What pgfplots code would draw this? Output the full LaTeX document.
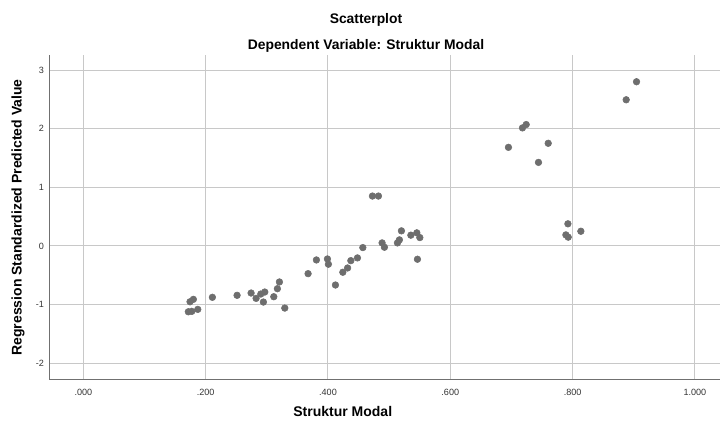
\documentclass[border=0pt]{standalone}
\usepackage{pgfplots}
\pgfplotsset{compat=1.18}
\usepackage{fontspec}
\setmainfont{Liberation Sans}
\definecolor{dotc}{HTML}{6E6E6E}
\definecolor{gridc}{HTML}{C8C8C8}
\definecolor{axc}{HTML}{707070}
\definecolor{tickc}{HTML}{333333}
\begin{document}
\begin{tikzpicture}
\begin{axis}[
  at={(0,0)}, anchor=south west,
  scale only axis, width=502.5pt, height=243.75pt,
  xmin=-0.0545, xmax=1.041, ymin=-2.29, ymax=3.26,
  axis lines*=left,
  axis line style={axc, line width=0.75pt},
  grid=major,
  major grid style={gridc, line width=0.75pt},
  major tick length=0pt,
  xtick={0,0.2,0.4,0.6,0.8,1.0},
  xticklabels={.000,.200,.400,.600,.800,1.000},
  ytick={-2,-1,0,1,2,3},
  yticklabels={-2,-1,0,1,2,3},
  tick label style={font=\fontsize{6.8}{8}\selectfont, text=tickc},
  xticklabel style={yshift=-3pt},
  yticklabel style={xshift=-1pt},
  xlabel={\textbf{Struktur Modal}},
  ylabel={\textbf{Regression Standardized Predicted Value}},
  xlabel style={font=\fontsize{10.5}{12}\selectfont, at={(rel axis cs:0.437,0)}, anchor=center, yshift=-23.5pt},
  ylabel style={font=\fontsize{10.5}{12}\selectfont, at={(rel axis cs:-0.0478,0.5)}, anchor=center},
  clip=false,
]
\addplot[only marks, mark=*, mark size=2.5pt, mark options={fill=dotc, draw=dotc}] coordinates {
(0.1717,-1.125) (0.1773,-1.118) (0.1871,-1.084) (0.1745,-0.954) (0.1799,-0.913)
(0.2110,-0.878) (0.2514,-0.844) (0.2743,-0.805) (0.2825,-0.896) (0.2902,-0.822)
(0.2967,-0.788) (0.2944,-0.959) (0.3114,-0.868) (0.3173,-0.731) (0.3206,-0.616)
(0.3294,-1.062) (0.3675,-0.474) (0.3811,-0.240) (0.3991,-0.223) (0.4007,-0.313)
(0.4122,-0.668) (0.4243,-0.450) (0.4321,-0.377) (0.4374,-0.252) (0.4482,-0.205)
(0.4570,-0.029) (0.4727,0.851) (0.4825,0.851) (0.4885,0.051) (0.4923,-0.023)
(0.5136,0.051) (0.5168,0.103) (0.5201,0.257) (0.5355,0.183) (0.5453,0.223)
(0.5502,0.142) (0.5463,-0.228) (0.6951,1.683) (0.7180,2.015) (0.7241,2.072)
(0.7442,1.426) (0.7601,1.752) (0.7923,0.377) (0.7890,0.188) (0.7928,0.149)
(0.8135,0.250) (0.8876,2.495) (0.9045,2.803)
};
\node[font=\fontsize{10.4}{12}\selectfont\bfseries, anchor=center] at (rel axis cs:0.4716,1.108) {Scatterplot};
\node[font=\fontsize{10.4}{12}\selectfont\bfseries, anchor=center] at (rel axis cs:0.4716,1.028) {Dependent Variable: Struktur Modal};
\end{axis}
\pgfresetboundingbox
\path (-37.5pt,-32.25pt) rectangle (502.5pt,285pt);
\end{tikzpicture}
\end{document}
